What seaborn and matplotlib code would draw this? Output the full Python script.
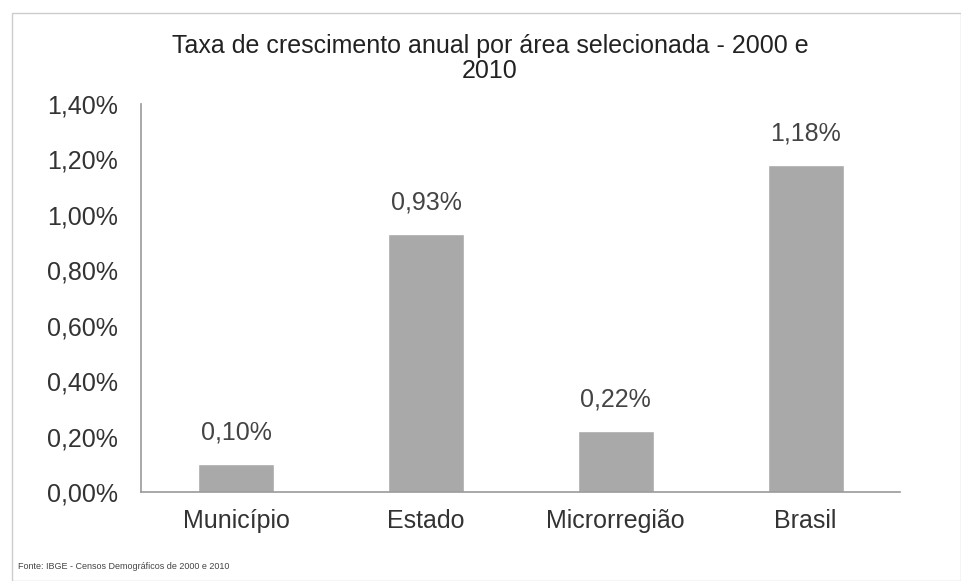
import matplotlib
matplotlib.use("Agg")
import matplotlib.pyplot as plt
import seaborn as sns
import pandas as pd
from matplotlib.patches import Rectangle

categories = ["Município", "Estado", "Microrregião", "Brasil"]
values = [0.10, 0.93, 0.22, 1.18]
value_labels = ["0,10%", "0,93%", "0,22%", "1,18%"]
yticks = [0.0, 0.2, 0.4, 0.6, 0.8, 1.0, 1.2, 1.4]
ytick_labels = ["0,00%", "0,20%", "0,40%", "0,60%", "0,80%", "1,00%", "1,20%", "1,40%"]
title = "Taxa de crescimento anual por área selecionada - 2000 e\n2010"
source = "Fonte: IBGE - Censos Demográficos de 2000 e 2010"

sns.set_style("white")
plt.rcParams["font.family"] = ["Liberation Sans", "DejaVu Sans"]

df = pd.DataFrame({"cat": categories, "val": values})

fig = plt.figure(figsize=(9.61, 5.81), dpi=100)
ax = fig.add_axes([0.147, 0.153, 0.79, 0.668])
sns.barplot(data=df, x="cat", y="val", color="#a9a9a9", width=0.4, ax=ax,
            saturation=1)
for p, lab in zip(ax.patches, value_labels):
    ax.text(p.get_x() + p.get_width() / 2, p.get_height() + 0.07, lab,
            ha="center", va="bottom", fontsize=18, color="#444444")

ax.set_ylim(0, 1.4)
ax.set_yticks(yticks)
ax.set_yticklabels(ytick_labels)
ax.set_xlabel("")
ax.set_ylabel("")
ax.tick_params(axis="both", length=0, labelsize=18, labelcolor="#333333")
ax.tick_params(axis="y", pad=17)
ax.tick_params(axis="x", pad=12)
for s in ["top", "right"]:
    ax.spines[s].set_visible(False)
for s in ["left", "bottom"]:
    ax.spines[s].set_color("#999999")
    ax.spines[s].set_linewidth(1.2)

fig.text(0.51, 0.90, title, ha="center", va="center", fontsize=18,
         color="#222222", linespacing=1.05)
fig.text(0.019, 0.025, source, ha="left", va="center", fontsize=6.5,
         color="#444444")
fig.patches.append(Rectangle((0.012, 0.0), 0.988, 0.978, transform=fig.transFigure,
                             fill=False, edgecolor="#cccccc", linewidth=1))

fig.savefig("out.png", dpi=100)
